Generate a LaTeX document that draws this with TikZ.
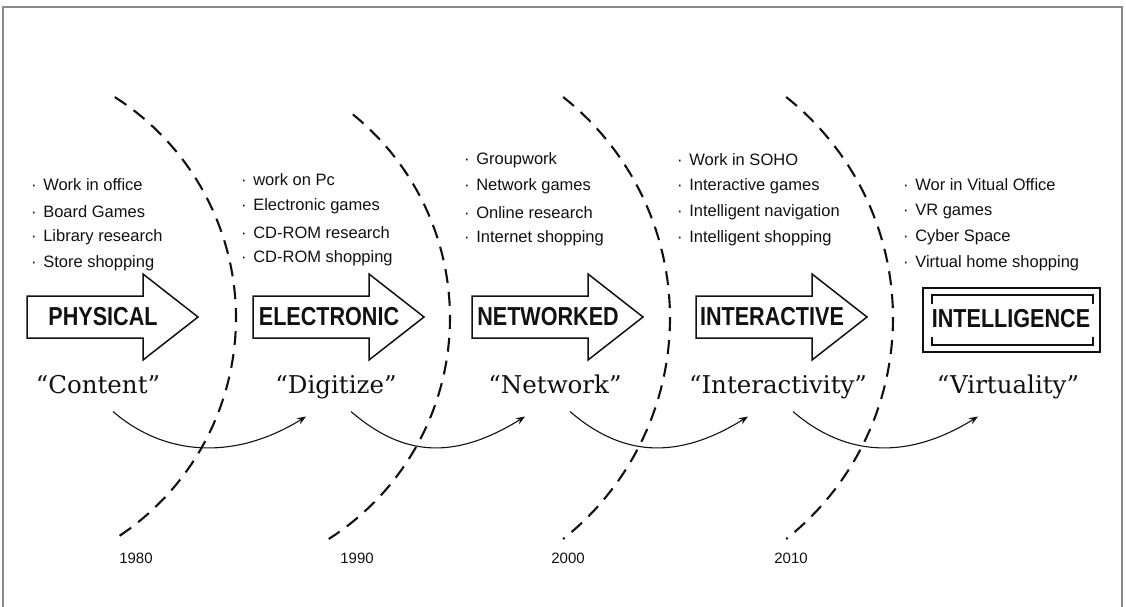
\documentclass[tikz,border=0pt]{standalone}
\usepackage{fontspec}
\setmainfont{DejaVu Serif}
\setsansfont{Liberation Sans}
\usepackage{tikz}
\usetikzlibrary{calc,arrows.meta}
\definecolor{ink}{HTML}{111111}
\definecolor{framegray}{HTML}{8A8A8A}
\tikzset{
  frame/.style={draw=framegray, line width=1.3pt},
  bigarrow/.style={draw=ink, line width=1.5pt, line join=miter},
  bracket/.style={draw=ink, line width=1.1pt},
  biglab/.style={text=ink, font=\sffamily\bfseries\fontsize{26}{26}\selectfont, xscale=0.83, inner sep=0pt},
  item/.style={text=ink, font=\sffamily\fontsize{16.5}{18}\selectfont, anchor=west, inner sep=0pt},
  motto/.style={text=ink, font=\fontsize{24.5}{28}\selectfont, text height=18pt, text depth=6pt},
  yearline/.style={draw=ink, line width=2.1pt, dash pattern=on 14pt off 9pt},
  yearlab/.style={text=ink, font=\sffamily\fontsize{15}{17}\selectfont},
  flow/.style={draw=ink, line width=1.1pt, -{Stealth[length=9pt,width=7pt]}},
}
\newcommand{\itm}[1]{·\hspace{0.4em}#1}

\begin{document}
\begin{tikzpicture}[x=1pt,y=-1pt]
  \useasboundingbox (0,0) rectangle (1126,607);
  % open frame
  \draw[frame] (3,607) |- (1122,7) -- (1122,607);
  % decade borders
  \foreach \cx/\R/\ta/\tb in {-26/262/-57.5/57.5, 188/262/-51/57.5, 388/282/-51.6/51.6, 611/282/-51.6/51.6}
    \draw[yearline] plot[domain=\ta:\tb, samples=60] ({\cx+\R*cos(\x)},{318+\R*sin(\x)});
  \foreach \yr/\yx in {1980/136,1990/357,2000/568,2010/791}
    \node[yearlab] (y\yr) at (\yx,558) {\yr};
  % activity lists
  \foreach \col/\bx/\by/\items in {
      1/31/185/{Work in office,Board Games,Library research,Store shopping},
      2/241/180/{work on Pc,Electronic games,CD-ROM research,CD-ROM shopping},
      3/464/160/{Groupwork,Network games,Online research,Internet shopping},
      4/677/160/{Work in SOHO,Interactive games,Intelligent navigation,Intelligent shopping},
      5/903/185/{Wor in Vitual Office,VR games,Cyber Space,Virtual home shopping}}
    \foreach \t [count=\i from 0] in \items
      \node[item] (it\col-\i) at (\bx,\by+26.2*\i) {\itm{\t}};
  % stage arrows
  \foreach \name/\lbl/\ax in {phys/PHYSICAL/27, elec/ELECTRONIC/253, netw/NETWORKED/472, intr/INTERACTIVE/696} {
    \draw[bigarrow] (\ax,296) -- ++(116,0) -- ++(0,-22) -- ++(55,43) -- ++(-55,43) -- ++(0,-22) -- ++(-116,0) -- cycle;
    \node[biglab] (\name) at (\ax+76,317) {\lbl};
  }
  % last stage
  \draw[bigarrow] (923,288) rectangle (1100,352);
  \draw[bracket] (932,304) |- (1093,295) -- (1093,304);
  \draw[bracket] (932,337) |- (1093,345) -- (1093,337);
  \node[biglab] (intl) at (1011,319) {INTELLIGENCE};
  % keywords
  \node[motto] (q1) at (98,387) {“Content”};
  \node[motto] (q2) at (336,387) {“Digitize”};
  \node[motto] (q3) at (555,387) {“Network”};
  \node[motto] (q4) at (778,387) {“Interactivity”};
  \node[motto] (q5) at (1008,387) {“Virtuality”};
  \foreach \a/\b in {q1/q2,q2/q3,q3/q4,q4/q5}
    \draw[flow] ($(\a.south)+(15,9)$) .. controls +(52,45) and +(-71,44) .. ($(\b.south)+(-30,14)$);
\end{tikzpicture}
\end{document}
